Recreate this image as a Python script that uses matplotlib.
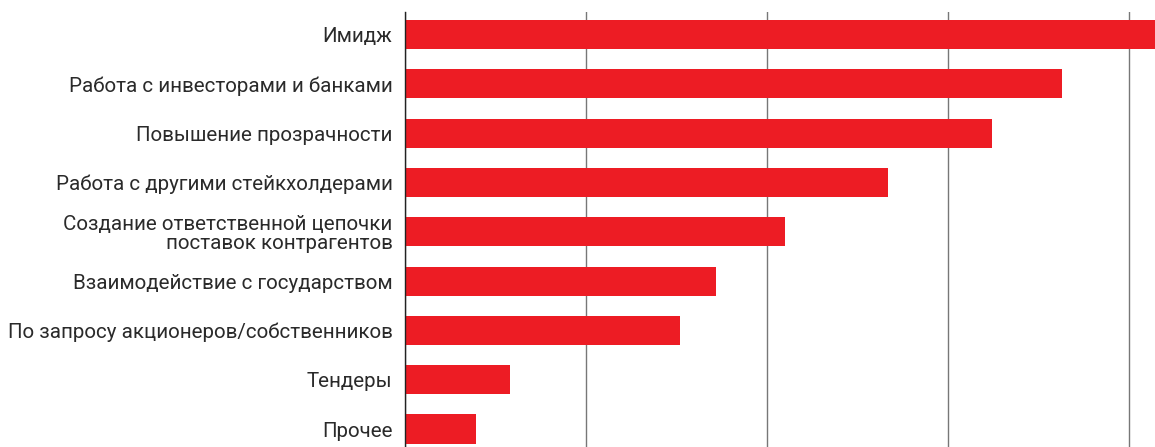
import matplotlib
matplotlib.use("Agg")
import matplotlib.pyplot as plt

categories = [
    "Имидж",
    "Работа с инвесторами и банками",
    "Повышение прозрачности",
    "Работа с другими стейкхолдерами",
    "Создание ответственной цепочки\nпоставок контрагентов",
    "Взаимодействие с государством",
    "По запросу акционеров/собственников",
    "Тендеры",
    "Прочее",
]
values = [42.0, 36.3, 32.4, 26.7, 21.0, 17.2, 15.2, 5.8, 3.9]
grid_ticks = [0, 10, 20, 30, 40]

plt.rcParams["font.family"] = ["Roboto", "DejaVu Sans"]

fig = plt.figure(figsize=(11.55, 4.47), dpi=100)
ax = fig.add_axes([405 / 1155, 0.0, 750 / 1155, 435 / 447])

pos = list(range(len(categories)))
ax.barh(pos, values, height=0.59, color="#ED1C24", zorder=2)

ax.set_xlim(0, 41.43)
ax.set_ylim(8.365, -0.456)
ax.set_yticks(pos)
ax.set_yticklabels(categories, fontsize=14.8, color="#2a2a2a", linespacing=1.0)
ax.tick_params(axis="y", length=0, pad=9)
ax.set_xticks(grid_ticks)
ax.tick_params(axis="x", length=0, labelbottom=False)
ax.grid(axis="x", color="#777777", linewidth=1.0, zorder=0)
ax.grid(axis="y", visible=False)
for s in ["top", "right", "bottom"]:
    ax.spines[s].set_visible(False)
ax.spines["left"].set_color("#222222")
ax.spines["left"].set_linewidth(1.0)
ax.spines["left"].set_zorder(3)

fig.savefig("out.png", dpi=100)
